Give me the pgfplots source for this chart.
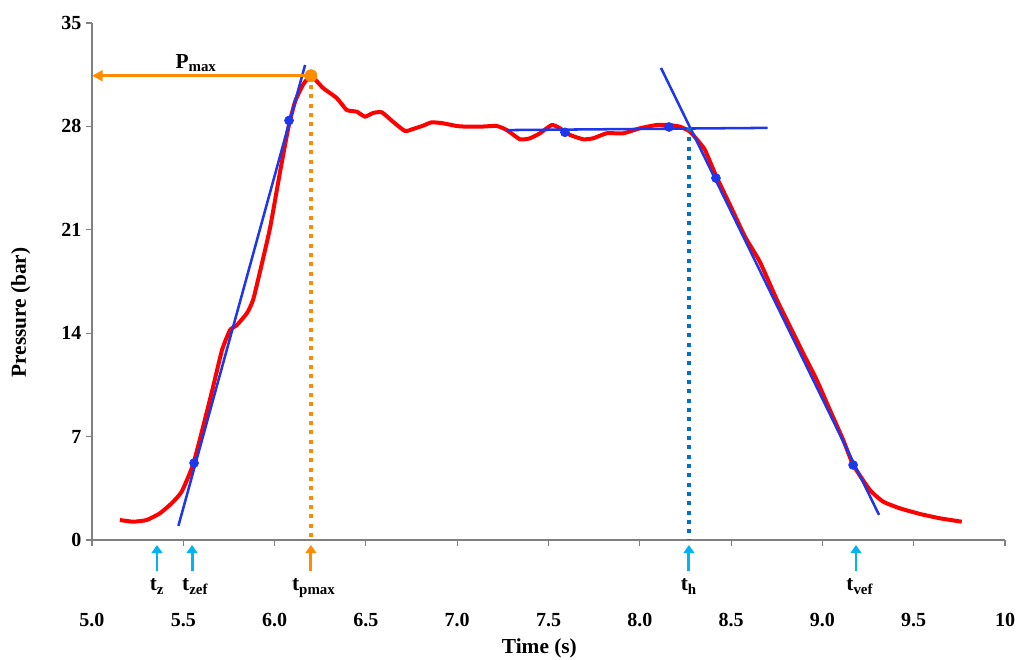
\documentclass[border=0pt]{standalone}
\usepackage{fontspec}
\setmainfont{Liberation Serif}
\usepackage{pgfplots}
\pgfplotsset{compat=1.18}
\usetikzlibrary{arrows.meta}
\definecolor{curvered}{RGB}{255,0,0}
\definecolor{tanblue}{RGB}{30,55,235}
\definecolor{pmaxorange}{RGB}{255,140,0}
\definecolor{markcyan}{RGB}{0,180,240}
\definecolor{thblue}{RGB}{0,112,200}
\begin{document}
\begin{tikzpicture}
\begin{axis}[
  scale only axis, width=684.75pt, height=387.75pt,
  xmin=5, xmax=10, ymin=0, ymax=35,
  axis lines*=left, axis line style={gray, line width=0.8pt},
  tick style={gray, line width=0.8pt}, tick align=outside, major tick length=4.5pt,
  xtick={5,5.5,6,6.5,7,7.5,8,8.5,9,9.5,10},
  xticklabels={5.0,5.5,6.0,6.5,7.0,7.5,8.0,8.5,9.0,9.5,10},
  ytick={0,7,14,21,28,35},
  ticklabel style={font=\fontsize{15}{18}\selectfont\bfseries},
  /pgf/number format/assume math mode=true,
  xticklabel style={yshift=-47pt},
  xlabel={Time (s)}, ylabel={Pressure (bar)},
  label style={font=\fontsize{16}{19}\selectfont\bfseries},
  xlabel style={at={(axis description cs:0.49,-0.209)}, anchor=center},
  ylabel style={at={(axis description cs:-0.078,0.44)}, anchor=center},
  clip=false,
]
% pressure trace
\addplot[curvered, line width=3pt, line join=round, smooth, tension=0.3] coordinates {
(5.153,1.354) (5.225,1.239) (5.300,1.354) (5.372,1.808) (5.436,2.485) (5.491,3.270)
(5.553,5.078) (5.608,7.650) (5.663,10.358) (5.712,12.863) (5.756,14.217) (5.794,14.556)
(5.849,15.368) (5.882,16.248) (5.920,18.164) (5.975,21.122) (6.030,24.934) (6.075,27.893)
(6.112,29.673) (6.155,30.804) (6.199,31.433) (6.265,30.601) (6.340,29.924) (6.395,29.111)
(6.450,28.996) (6.495,28.658) (6.539,28.908) (6.587,28.955) (6.648,28.319) (6.714,27.689)
(6.758,27.825) (6.813,28.048) (6.860,28.278) (6.922,28.211) (6.997,28.028) (7.052,27.980)
(7.125,27.980) (7.216,28.028) (7.271,27.757) (7.344,27.127) (7.399,27.195) (7.453,27.534)
(7.518,28.096) (7.563,27.872) (7.618,27.419) (7.691,27.127) (7.745,27.195) (7.819,27.534)
(7.910,27.534) (8.001,27.872) (8.093,28.096) (8.156,28.096) (8.220,27.980) (8.275,27.642)
(8.330,26.857) (8.357,26.403) (8.418,24.643) (8.494,22.680) (8.577,20.513) (8.658,18.820)
(8.751,16.248) (8.823,14.441) (8.895,12.640) (8.969,10.832) (9.041,8.801) (9.114,6.770)
(9.169,5.078) (9.260,3.385) (9.333,2.593) (9.424,2.146) (9.535,1.760) (9.644,1.469)
(9.763,1.239)};
% tangent lines
\addplot[tanblue, line width=1.9pt] coordinates {(5.473,0.95) (6.167,32.16)};
\addplot[tanblue, line width=1.9pt] coordinates {(7.27,27.75) (8.70,27.9)};
\addplot[tanblue, line width=1.9pt] coordinates {(8.116,31.96) (9.31,1.7)};
\addplot[only marks, mark=*, mark size=3.4pt, tanblue] coordinates {
(5.559,5.21) (6.079,28.4) (7.59,27.6) (8.16,27.96) (8.417,24.5) (9.168,5.08)};
% Pmax and th guides
\addplot[pmaxorange, line width=2.6pt, dash pattern=on 3pt off 4pt] coordinates {(6.199,31.43) (6.199,0)};
\addplot[thblue, line width=2.6pt, dash pattern=on 3pt off 4pt] coordinates {(8.27,27.9) (8.27,0)};
\addplot[pmaxorange, line width=2.6pt, -{Triangle[length=8pt,width=8pt]}] coordinates {(6.199,31.43) (5.0,31.43)};
\addplot[only marks, mark=*, mark size=4.6pt, pmaxorange] coordinates {(6.199,31.43)};
% time markers below the axis
\addplot[markcyan, line width=2.2pt, -{Triangle[length=6pt,width=8pt]}] coordinates {(5.356,-2.1) (5.356,-0.34)};
\addplot[markcyan, line width=2.2pt, -{Triangle[length=6pt,width=8pt]}] coordinates {(5.548,-2.1) (5.548,-0.34)};
\addplot[pmaxorange, line width=2.2pt, -{Triangle[length=6pt,width=8pt]}] coordinates {(6.199,-2.1) (6.199,-0.34)};
\addplot[markcyan, line width=2.2pt, -{Triangle[length=6pt,width=8pt]}] coordinates {(8.269,-2.1) (8.269,-0.34)};
\addplot[markcyan, line width=2.2pt, -{Triangle[length=6pt,width=8pt]}] coordinates {(9.184,-2.1) (9.184,-0.34)};
\begin{scope}[every node/.style={font=\fontsize{16}{19}\selectfont\bfseries, anchor=base, inner sep=0pt}]
\node at (axis cs:5.356,-3.45) {t\textsubscript{z}};
\node at (axis cs:5.565,-3.45) {t\textsubscript{zef}};
\node at (axis cs:6.215,-3.45) {t\textsubscript{pmax}};
\node at (axis cs:8.269,-3.45) {t\textsubscript{h}};
\node at (axis cs:9.205,-3.45) {t\textsubscript{vef}};
\node at (axis cs:5.57,31.95) {P\textsubscript{max}};
\end{scope}
\end{axis}
\pgfresetboundingbox
\path[use as bounding box] ([shift={(-69pt,-89.25pt)}]current axis.south west) rectangle ([shift={(9.75pt,17.25pt)}]current axis.north east);
\end{tikzpicture}
\end{document}
